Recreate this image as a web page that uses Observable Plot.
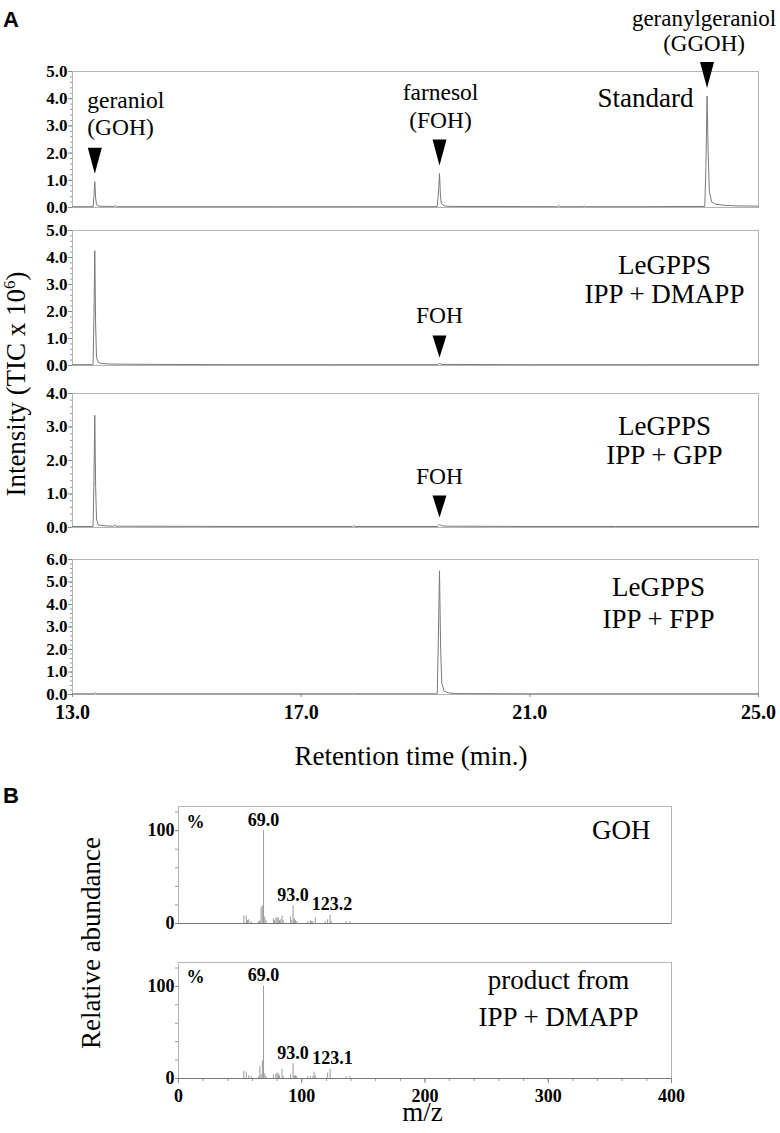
<!DOCTYPE html>
<html><head><meta charset="utf-8">
<script src="https://cdn.jsdelivr.net/npm/d3@7"></script>
<script src="https://cdn.jsdelivr.net/npm/@observablehq/plot@0.6"></script>
<style>
body{margin:0;background:#fff;}
#fig{position:relative;width:780px;height:1133px;overflow:hidden;background:#fff;}
#fig svg{position:absolute;left:0;}
</style></head><body><div id="fig"></div>
<script>
// ---------- DATA ----------
const retentionTicks = [13, 17, 21, 25];
const yTicksStandard = [0, 1, 2, 3, 4, 5];
const yTicksDmapp = [0, 1, 2, 3, 4, 5];
const yTicksGpp = [0, 1, 2, 3, 4];
const yTicksFpp = [0, 1, 2, 3, 4, 5, 6];
const mzTicks = [0, 100, 200, 300, 400];
const abundanceTicks = [0, 100];

// chromatogram traces: [retention time (min), intensity (TIC x 10^6)]
const traceStandard = [[13.0,0.03],[13.36,0.03],[13.375,0.4],[13.39,0.95],[13.405,0.35],[13.42,0.1],[13.46,0.05],[13.55,0.04],[13.73,0.04],[13.75,0.07],[13.77,0.03],[15.0,0.03],[16.5,0.03],[18.0,0.03],[19.38,0.03],[19.40,0.5],[19.42,1.25],[19.435,0.5],[19.45,0.15],[19.5,0.06],[19.6,0.04],[21.48,0.03],[21.5,0.08],[21.52,0.03],[21.93,0.03],[21.95,0.06],[21.97,0.03],[23.0,0.03],[24.06,0.04],[24.08,1.5],[24.1,4.1],[24.12,2.0],[24.14,0.6],[24.18,0.2],[24.25,0.12],[24.4,0.08],[24.6,0.06],[25.0,0.05]];
const traceDmapp = [[13.0,0.03],[13.36,0.03],[13.375,1.8],[13.39,4.25],[13.405,1.5],[13.42,0.3],[13.45,0.12],[13.5,0.08],[13.6,0.06],[13.75,0.05],[14.5,0.04],[16.0,0.03],[17.5,0.03],[19.38,0.03],[19.42,0.08],[19.46,0.04],[21.0,0.03],[23.0,0.03],[25.0,0.03]];
const traceGpp = [[13.0,0.03],[13.36,0.03],[13.375,1.4],[13.39,3.35],[13.405,1.2],[13.42,0.25],[13.45,0.08],[13.55,0.05],[13.72,0.04],[13.74,0.07],[13.76,0.04],[16.0,0.03],[17.9,0.03],[17.92,0.06],[17.94,0.03],[19.38,0.03],[19.42,0.09],[19.46,0.05],[19.55,0.04],[21.0,0.03],[22.5,0.03],[25.0,0.03]];
const traceFpp = [[13.0,0.03],[13.38,0.03],[13.4,0.08],[13.42,0.03],[16.0,0.03],[17.9,0.03],[17.92,0.06],[17.94,0.03],[19.38,0.03],[19.4,2.5],[19.42,5.5],[19.44,2.0],[19.46,0.5],[19.5,0.15],[19.58,0.07],[19.7,0.04],[21.0,0.03],[25.0,0.03]];

const panelLabels = ["Standard", "LeGPPS\nIPP + DMAPP", "LeGPPS\nIPP + GPP", "LeGPPS\nIPP + FPP"];

const standardPeaks = [
  {name: "geraniol\n(GOH)", t: 13.39, h: 0.95},
  {name: "farnesol\n(FOH)", t: 19.42, h: 1.25},
  {name: "geranylgeraniol\n(GGOH)", t: 24.10, h: 4.1}
];
const dmappPeaks = [{name: "FOH", t: 19.42, h: 0.07}];
const gppPeaks = [{name: "FOH", t: 19.42, h: 0.09}];

// mass spectra: [m/z, relative abundance %]
const spectrumGoh = [[53,8],[55,8],[56,3],[57,4],[59,2],[65,2],[66,3],[67,17],[68,19],[69,100],[70,7],[71,3],[77,5],[78,3],[79,6],[80,6],[81,6],[82,3],[83,4],[84,8],[85,3],[91,7],[92,3],[93,19],[94,5],[95,3],[96,2],[105,2],[107,3],[108,2],[109,2],[111,6],[119,2],[121,4],[123,9],[124,2],[136,2],[139,2]];
const spectrumProduct = [[53,8],[55,7],[57,3],[59,2],[65,2],[66,13],[67,4],[68,19],[69,100],[70,5],[71,2],[77,4],[79,5],[80,6],[81,5],[82,3],[84,10],[85,2],[91,4],[93,16],[94,3],[95,3],[96,2],[105,2],[107,2],[109,2],[110,7],[111,3],[121,6],[123,10],[136,2],[139,2]];
const gohIonLabels = [{mz: 69, rel: 100, text: "69.0"}, {mz: 93, rel: 19, text: "93.0"}, {mz: 124.5, rel: 9, text: "123.2"}];
const productIonLabels = [{mz: 69, rel: 100, text: "69.0"}, {mz: 93, rel: 16, text: "93.0"}, {mz: 125, rel: 10, text: "123.1"}];
const spectrumCaptions = ["GOH", "product from\nIPP + DMAPP"];

// ---------- DRAWING ----------
const fig = document.getElementById("fig");
const SERIF = "'Liberation Serif','Times New Roman',serif";
const fmt1 = d3.format(".1f");

const triTall = {draw(c){ c.moveTo(-7,-26); c.lineTo(7,-26); c.lineTo(0,0); c.closePath(); }};
const triShort = {draw(c){ c.moveTo(-7,-22); c.lineTo(7,-22); c.lineTo(0,0); c.closePath(); }};

function place(svg, top) {
  svg.style.top = top + "px";
  fig.appendChild(svg);
}

function chromatogram({trace, yTicks, frameTop, frameBottom, mt = 12, xAxis = false, extra = []}) {
  const mb = xAxis ? 80 : 4;
  const svg = Plot.plot({
    width: 780, height: mt + (frameBottom - frameTop) + mb,
    marginTop: mt, marginBottom: mb, marginLeft: 72, marginRight: 22,
    style: {background: "transparent", overflow: "visible", fontFamily: SERIF},
    x: {domain: [13, 25], axis: null},
    y: {domain: [0, yTicks[yTicks.length - 1]], axis: null},
    marks: [
      Plot.frame({stroke: "#b5b5b5"}),
      Plot.axisY({interval: 0.2, tickSize: 2, text: null, stroke: "#9a9a9a", label: null}),
      Plot.axisY({ticks: yTicks, tickSize: 4, tickPadding: 1, tickFormat: fmt1, fontSize: 17, fontWeight: "bold", fill: "black", stroke: "#888", label: null}),
      ...(xAxis ? [Plot.axisX({ticks: retentionTicks, tickSize: 3, tickPadding: 7, tickFormat: fmt1, fontSize: 20, fontWeight: "bold", fill: "black", stroke: "#888", label: null})] : []),
      Plot.line(trace, {x: d => d[0], y: d => d[1], stroke: "#7a7a7a", strokeWidth: 1}),
      ...extra
    ]
  });
  place(svg, frameTop - mt);
}

// A1 Standard
chromatogram({
  trace: traceStandard, yTicks: yTicksStandard, frameTop: 71, frameBottom: 207, mt: 71,
  extra: [
    Plot.dot(standardPeaks, {x: "t", y: "h", symbol: triTall, fill: "black", stroke: "none", dy: -8}),
    Plot.text(standardPeaks.slice(0, 1), {x: "t", y: "h", text: "name", textAnchor: "start", dx: -7.5, dy: -47, lineAnchor: "bottom", lineHeight: 1.15, fontSize: 23.5, fill: "black"}),
    Plot.text(standardPeaks.slice(1, 2), {x: "t", y: "h", text: "name", textAnchor: "middle", dx: 1, dy: -46, lineAnchor: "bottom", lineHeight: 1.15, fontSize: 23.5, fill: "black"}),
    Plot.text(standardPeaks.slice(2), {x: "t", y: "h", text: "name", textAnchor: "middle", dx: -3, dy: -45, lineAnchor: "bottom", lineHeight: 1.1, fontSize: 23, fill: "black"}),
    Plot.text(panelLabels.slice(0, 1), {text: d => d, frameAnchor: "top-right", textAnchor: "end", dx: -65, dy: 35, lineAnchor: "bottom", fontSize: 27, fill: "black"})
  ]
});
// A2 IPP + DMAPP
chromatogram({
  trace: traceDmapp, yTicks: yTicksDmapp, frameTop: 230, frameBottom: 365,
  extra: [
    Plot.dot(dmappPeaks, {x: "t", y: "h", symbol: triShort, fill: "black", stroke: "none", dy: -6}),
    Plot.text(dmappPeaks, {x: "t", y: "h", text: "name", textAnchor: "middle", dy: -41, lineAnchor: "bottom", fontSize: 23.5, fill: "black"}),
    Plot.text(panelLabels.slice(1, 2), {text: d => d, frameAnchor: "top-right", textAnchor: "middle", dx: -94, dy: 72, lineAnchor: "bottom", lineHeight: 1.07, fontSize: 27, fill: "black"})
  ]
});
// A3 IPP + GPP
chromatogram({
  trace: traceGpp, yTicks: yTicksGpp, frameTop: 393, frameBottom: 527,
  extra: [
    Plot.dot(gppPeaks, {x: "t", y: "h", symbol: triShort, fill: "black", stroke: "none", dy: -7}),
    Plot.text(gppPeaks, {x: "t", y: "h", text: "name", textAnchor: "middle", dy: -40, lineAnchor: "bottom", fontSize: 23.5, fill: "black"}),
    Plot.text(panelLabels.slice(2, 3), {text: d => d, frameAnchor: "top-right", textAnchor: "middle", dx: -94, dy: 70, lineAnchor: "bottom", lineHeight: 1.04, fontSize: 27, fill: "black"})
  ]
});
// A4 IPP + FPP
chromatogram({
  trace: traceFpp, yTicks: yTicksFpp, frameTop: 559, frameBottom: 694, xAxis: true,
  extra: [
    Plot.text(panelLabels.slice(3, 4), {text: d => d, frameAnchor: "top-right", textAnchor: "middle", dx: -100, dy: 68, lineAnchor: "bottom", lineHeight: 1.18, fontSize: 27, fill: "black"}),
    Plot.text(["Retention time (min.)"], {text: d => d, frameAnchor: "bottom", textAnchor: "middle", dx: -4.5, dy: 70, lineAnchor: "bottom", fontSize: 27, fill: "black"})
  ]
});

function spectrum({data, labels, caption, captionOpts, pctDy, frameTop, frameBottom, xAxis = false}) {
  const mt = 12, mb = xAxis ? 54 : 4;
  const svg = Plot.plot({
    width: 780, height: mt + (frameBottom - frameTop) + mb,
    marginTop: mt, marginBottom: mb, marginLeft: 178, marginRight: 109,
    style: {background: "transparent", overflow: "visible", fontFamily: SERIF},
    x: {domain: [0, 400], axis: null},
    y: {domain: [0, 126], axis: null},
    marks: [
      Plot.frame({stroke: "#b5b5b5"}),
      Plot.axisY({interval: 20, tickSize: 3, text: null, stroke: "#999", label: null}),
      Plot.axisY({ticks: abundanceTicks, tickSize: 3, tickPadding: 1, fontSize: 18, fontWeight: "bold", fill: "black", stroke: "#888", label: null}),
      ...(xAxis ? [
        Plot.axisX({interval: 20, tickSize: 3, text: null, stroke: "#999", label: null}),
        Plot.axisX({ticks: mzTicks, tickSize: 5, tickPadding: 6, fontSize: 18, fontWeight: "bold", fill: "black", stroke: "#888", label: null}),
        Plot.text(["m/z"], {text: d => d, frameAnchor: "bottom", textAnchor: "middle", dx: -2.5, dy: 42, lineAnchor: "bottom", fontSize: 27, fill: "black"})
      ] : []),
      Plot.ruleX(data, {x: d => d[0], y1: 0, y2: d => d[1], stroke: "#999", strokeWidth: 1}),
      Plot.ruleY([0], {stroke: "#777"}),
      Plot.text(labels, {x: "mz", y: "rel", text: "text", textAnchor: "middle", dy: -5, lineAnchor: "bottom", fontSize: 18, fontWeight: "bold", fill: "black"}),
      Plot.text(["%"], {text: d => d, frameAnchor: "top-left", textAnchor: "start", dx: 8, dy: pctDy, lineAnchor: "bottom", fontSize: 18, fontWeight: "bold", fill: "black"}),
      Plot.text([caption], {text: d => d, frameAnchor: "top-right", lineAnchor: "bottom", fontSize: 27, fill: "black", ...captionOpts})
    ]
  });
  place(svg, frameTop - mt);
}

spectrum({data: spectrumGoh, labels: gohIonLabels, caption: spectrumCaptions[0],
  captionOpts: {textAnchor: "end", dx: -21, dy: 32}, pctDy: 21, frameTop: 806, frameBottom: 923});
spectrum({data: spectrumProduct, labels: productIonLabels, caption: spectrumCaptions[1],
  captionOpts: {textAnchor: "middle", dx: -113, dy: 63, lineHeight: 1.37}, pctDy: 20, frameTop: 962, frameBottom: 1078, xAxis: true});

// overlay titles
const ov = d3.select(fig).append("svg").attr("width", 780).attr("height", 1133).style("top", "0px");
ov.append("text").attr("x", 3).attr("y", 27).attr("font-family", "'Liberation Sans',Arial,sans-serif").attr("font-weight", "bold").attr("font-size", 22).text("A");
ov.append("text").attr("x", 3).attr("y", 803).attr("font-family", "'Liberation Sans',Arial,sans-serif").attr("font-weight", "bold").attr("font-size", 22).text("B");
const yl = ov.append("text").attr("transform", "translate(25,384) rotate(-90)").attr("text-anchor", "middle").attr("font-family", SERIF).attr("font-size", 27);
yl.append("tspan").text("Intensity (TIC x 10");
yl.append("tspan").attr("dy", -10).attr("font-size", 17).text("6");
yl.append("tspan").attr("dy", 10).text(")");
ov.append("text").attr("transform", "translate(100,943) rotate(-90)").attr("text-anchor", "middle").attr("font-family", SERIF).attr("font-size", 27).text("Relative abundance");
</script></body></html>
